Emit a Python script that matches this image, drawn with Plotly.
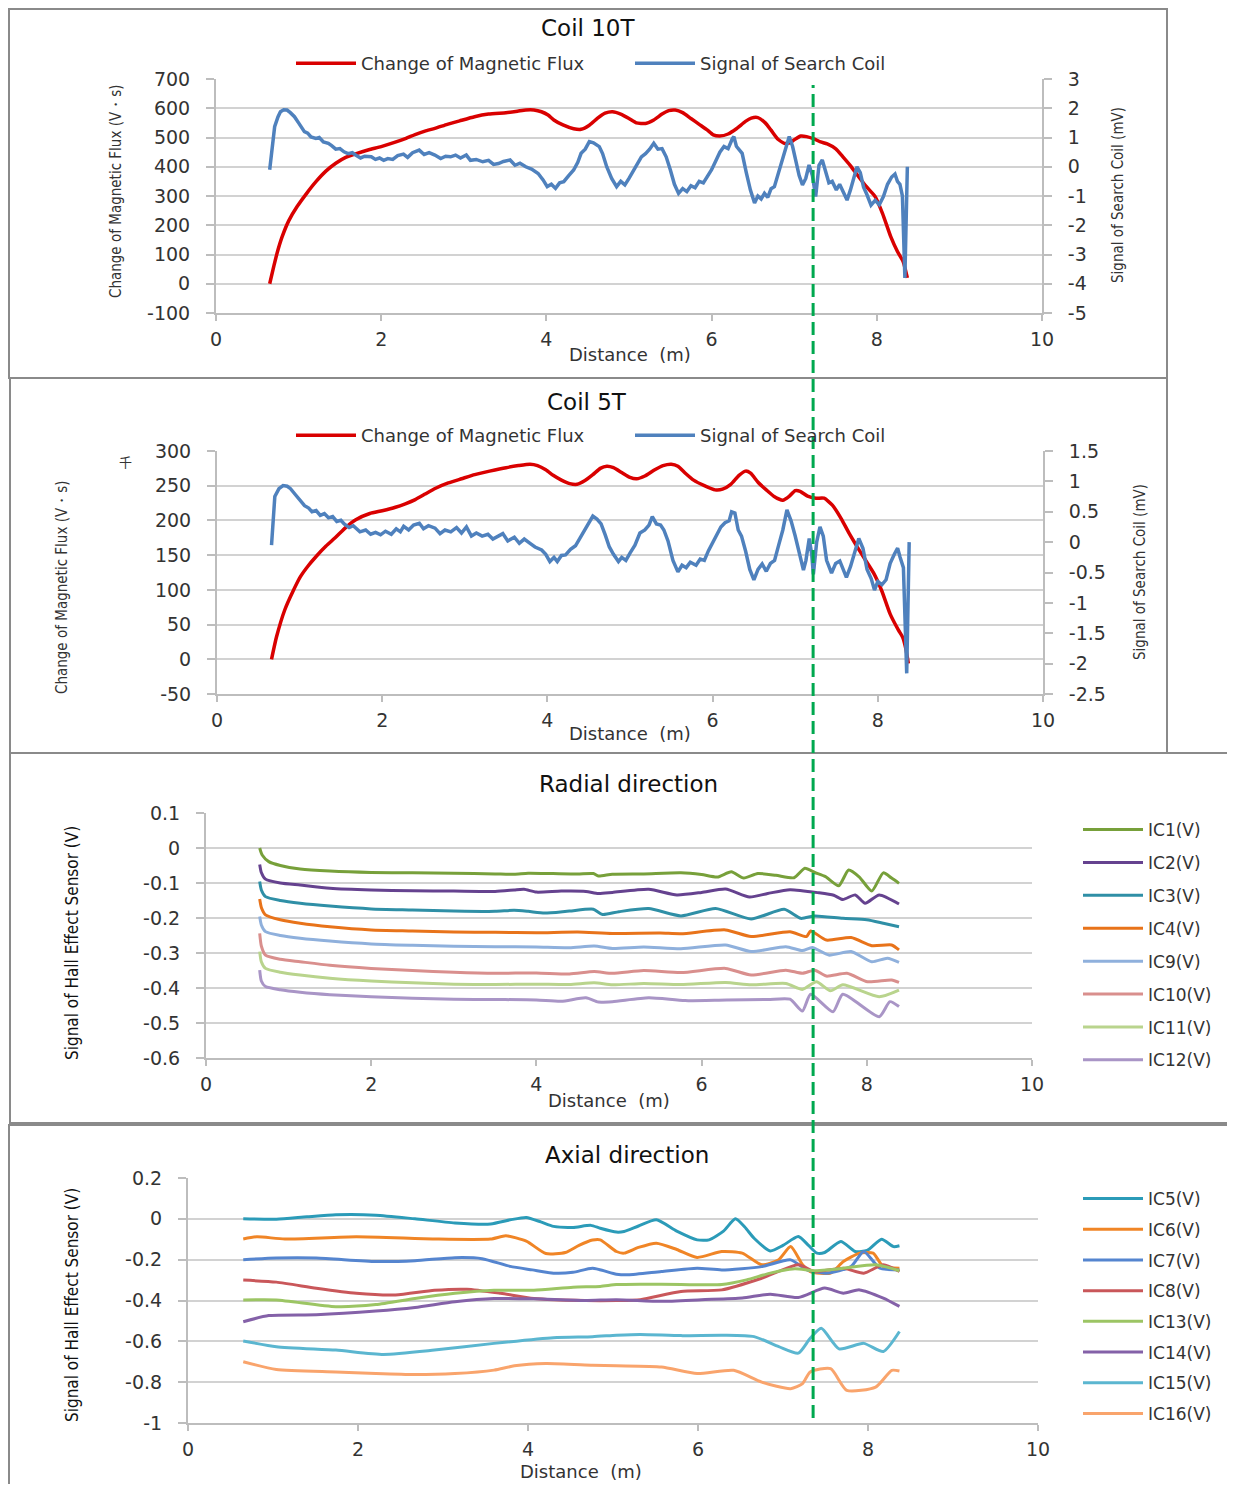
import plotly.graph_objects as go

# Page is 1235x1492; the browser body keeps its default 8px margin, so the
# figure itself is 16px smaller and every reference pixel is shifted by 8.
PAGE_W, PAGE_H = 1235, 1492
OFF = 8
W, H = PAGE_W - 2 * OFF, PAGE_H - 2 * OFF


def px(x):
    return (x - OFF) / W


def py(y):
    return 1 - (y - OFF) / H


# ---------------- DATA ----------------
x_ticks = [0, 2, 4, 6, 8, 10]
x_ticktext = ["0", "2", "4", "6", "8", "10"]

p1_left_ticks = [-100, 0, 100, 200, 300, 400, 500, 600, 700]
p1_left_text = ["-100", "0", "100", "200", "300", "400", "500", "600", "700"]
p1_right_ticks = [-5, -4, -3, -2, -1, 0, 1, 2, 3]
p1_right_text = ["-5", "-4", "-3", "-2", "-1", "0", "1", "2", "3"]

p2_left_ticks = [-50, 0, 50, 100, 150, 200, 250, 300]
p2_left_text = ["-50", "0", "50", "100", "150", "200", "250", "300"]
p2_right_ticks = [-2.5, -2, -1.5, -1, -0.5, 0, 0.5, 1, 1.5]
p2_right_text = ["-2.5", "-2", "-1.5", "-1", "-0.5", "0", "0.5", "1", "1.5"]

p3_ticks = [-0.6, -0.5, -0.4, -0.3, -0.2, -0.1, 0, 0.1]
p3_text = ["-0.6", "-0.5", "-0.4", "-0.3", "-0.2", "-0.1", "0", "0.1"]
p4_ticks = [-1, -0.8, -0.6, -0.4, -0.2, 0, 0.2]
p4_text = ["-1", "-0.8", "-0.6", "-0.4", "-0.2", "0", "0.2"]

# Coil 10T : change of magnetic flux (V*s)
c10_flux_d = [0.65, 0.70, 0.74, 0.80, 0.88, 0.98, 1.10, 1.21, 1.33, 1.45, 1.57, 1.69, 1.85, 2.00,
              2.17, 2.30, 2.41, 2.53, 2.65, 2.80, 2.95, 3.13, 3.30, 3.51, 3.65, 3.75, 3.85, 3.94,
              4.02, 4.09, 4.20, 4.33, 4.42, 4.52, 4.62, 4.71, 4.80, 4.90, 5.00, 5.09, 5.20, 5.30,
              5.40, 5.48, 5.56, 5.65, 5.75, 5.85, 5.95, 6.02, 6.10, 6.20, 6.30, 6.41, 6.48, 6.56,
              6.65, 6.72, 6.80, 6.88, 6.95, 7.00, 7.08, 7.15, 7.24, 7.32, 7.40, 7.50, 7.59, 7.68,
              7.78, 7.88, 7.98, 8.07, 8.17, 8.25, 8.32, 8.37]
c10_flux = [0, 60, 105, 160, 215, 263, 310, 349, 385, 412, 432, 444, 458, 469,
            484, 497, 510, 522, 531, 545, 557, 571, 580, 585, 590, 594, 594, 588,
            577, 560, 543, 530, 528, 542, 566, 583, 588, 580, 565, 550, 548, 560,
            580, 592, 594, 585, 565, 545, 525, 509, 505, 512, 530, 555, 566, 568,
            550, 525, 495, 480, 482, 492, 505, 503, 495, 485, 478, 462, 434, 404,
            366, 330, 298, 240, 160, 110, 75, 20]

# Coil 10T : signal of search coil (mV)
c10_sig_d = [0.65, 0.68, 0.71, 0.75, 0.78, 0.82, 0.86, 0.90, 0.95, 1.00, 1.04, 1.07, 1.11, 1.15,
             1.21, 1.25, 1.30, 1.36, 1.40, 1.45, 1.50, 1.55, 1.60, 1.65, 1.69, 1.75, 1.80, 1.88,
             1.93, 1.98, 2.03, 2.08, 2.14, 2.20, 2.27, 2.32, 2.38, 2.46, 2.52, 2.58, 2.65, 2.72,
             2.78, 2.84, 2.90, 2.96, 3.03, 3.08, 3.15, 3.23, 3.30, 3.36, 3.42, 3.48, 3.56, 3.62,
             3.68, 3.75, 3.82, 3.90, 3.96, 4.01, 4.06, 4.11, 4.16, 4.21, 4.27, 4.33, 4.38, 4.42,
             4.47, 4.52, 4.57, 4.64, 4.68, 4.73, 4.79, 4.85, 4.90, 4.95, 5.00, 5.05, 5.10, 5.15,
             5.20, 5.25, 5.30, 5.35, 5.40, 5.45, 5.50, 5.55, 5.60, 5.65, 5.70, 5.75, 5.80, 5.85,
             5.90, 5.95, 6.00, 6.05, 6.10, 6.15, 6.20, 6.25, 6.27, 6.30, 6.33, 6.37, 6.42, 6.47,
             6.52, 6.56, 6.60, 6.64, 6.68, 6.72, 6.76, 6.80, 6.85, 6.90, 6.94, 6.98, 7.02, 7.06,
             7.10, 7.14, 7.18, 7.22, 7.26, 7.30, 7.34, 7.38, 7.42, 7.46, 7.51, 7.55, 7.60, 7.64,
             7.68, 7.72, 7.76, 7.80, 7.84, 7.88, 7.93, 7.98, 8.03, 8.08, 8.13, 8.18, 8.22, 8.25,
             8.28, 8.31, 8.34, 8.37]
c10_sig = [-0.1, 0.6, 1.37, 1.7, 1.88, 1.95, 1.94, 1.85, 1.71, 1.5, 1.35, 1.2, 1.15, 1.02,
           0.97, 1.0, 0.85, 0.8, 0.72, 0.6, 0.62, 0.51, 0.45, 0.48, 0.4, 0.3, 0.36, 0.34,
           0.25, 0.3, 0.22, 0.28, 0.25, 0.38, 0.43, 0.32, 0.48, 0.57, 0.42, 0.48, 0.4, 0.28,
           0.36, 0.34, 0.4, 0.3, 0.4, 0.22, 0.25, 0.17, 0.22, 0.08, 0.11, 0.18, 0.23, 0.05,
           0.12, 0.0, -0.08, -0.23, -0.45, -0.68, -0.6, -0.74, -0.55, -0.51, -0.3, -0.11, 0.15, 0.46,
           0.6, 0.86, 0.82, 0.69, 0.45, 0.0, -0.4, -0.68, -0.5, -0.62, -0.4, -0.15, 0.15, 0.34,
           0.45, 0.6, 0.8, 0.6, 0.62, 0.34, -0.1, -0.6, -0.91, -0.75, -0.85, -0.65, -0.72, -0.5,
           -0.55, -0.34, -0.1, 0.2, 0.5, 0.69, 0.62, 0.95, 1.03, 0.7, 0.6, 0.46, -0.2, -0.8,
           -1.24, -1.0, -1.1, -0.91, -1.05, -0.75, -0.68, -0.3, 0.1, 0.6, 1.03, 0.7, 0.2, -0.3,
           -0.62, -0.4, 0.06, -0.3, -1.02, 0.05, 0.23, -0.2, -0.55, -0.5, -0.79, -0.6, -0.9, -1.14,
           -0.8, -0.4, 0.0, -0.2, -0.7, -0.95, -1.31, -1.15, -1.3, -1.02, -0.6, -0.35, -0.25, -0.5,
           -0.6, -1.0, -3.8, 0.0]

# Coil 5T : change of magnetic flux (V*s)
c5_flux_d = [0.66, 0.72, 0.82, 0.92, 1.01, 1.10, 1.20, 1.32, 1.44, 1.56, 1.68, 1.85, 2.00, 2.16,
             2.28, 2.40, 2.52, 2.64, 2.80, 2.96, 3.12, 3.30, 3.50, 3.65, 3.79, 3.88, 3.98, 4.07,
             4.17, 4.27, 4.36, 4.45, 4.55, 4.64, 4.72, 4.80, 4.90, 5.00, 5.08, 5.18, 5.30, 5.40,
             5.50, 5.58, 5.67, 5.77, 5.90, 6.03, 6.12, 6.22, 6.32, 6.40, 6.46, 6.55, 6.65, 6.75,
             6.85, 6.93, 7.00, 7.06, 7.15, 7.25, 7.35, 7.45, 7.56, 7.65, 7.75, 7.85, 7.95, 8.05,
             8.15, 8.25, 8.30, 8.34, 8.37]
c5_flux = [0, 32, 71, 98, 119, 134, 148, 163, 176, 190, 201, 210, 214, 219,
           224, 230, 238, 246, 254, 260, 266, 271, 276, 279, 281, 279, 273, 265,
           258, 253, 252, 257, 266, 275, 278, 276, 269, 262, 260, 264, 273, 279,
           281, 278, 268, 258, 250, 244, 245, 252, 265, 271, 268, 255, 244, 234,
           229, 235, 243, 242, 235, 232, 232, 222, 202, 182, 162, 143, 124, 98,
           65, 42, 32, 15, -6]

# Coil 5T : signal of search coil (mV)
c5_sig_d = [0.66, 0.68, 0.70, 0.75, 0.80, 0.85, 0.89, 0.95, 1.01, 1.06, 1.11, 1.15, 1.20, 1.25,
            1.30, 1.35, 1.40, 1.45, 1.50, 1.54, 1.60, 1.65, 1.73, 1.80, 1.86, 1.92, 1.98, 2.04,
            2.11, 2.17, 2.22, 2.26, 2.32, 2.38, 2.45, 2.50, 2.56, 2.64, 2.70, 2.76, 2.83, 2.90,
            2.96, 3.02, 3.08, 3.14, 3.21, 3.28, 3.34, 3.40, 3.46, 3.52, 3.60, 3.66, 3.72, 3.79,
            3.85, 3.93, 3.98, 4.03, 4.08, 4.12, 4.17, 4.22, 4.28, 4.34, 4.40, 4.45, 4.50, 4.55,
            4.60, 4.65, 4.70, 4.75, 4.80, 4.86, 4.90, 4.95, 5.00, 5.06, 5.12, 5.18, 5.23, 5.27,
            5.32, 5.37, 5.41, 5.46, 5.52, 5.58, 5.63, 5.68, 5.73, 5.80, 5.85, 5.90, 5.95, 6.02,
            6.10, 6.15, 6.20, 6.23, 6.27, 6.31, 6.35, 6.40, 6.45, 6.50, 6.55, 6.60, 6.65, 6.70,
            6.75, 6.80, 6.85, 6.90, 6.95, 7.00, 7.05, 7.10, 7.13, 7.17, 7.20, 7.22, 7.26, 7.30,
            7.34, 7.38, 7.44, 7.49, 7.54, 7.58, 7.62, 7.67, 7.72, 7.77, 7.82, 7.87, 7.92, 7.96,
            8.00, 8.05, 8.10, 8.15, 8.20, 8.24, 8.27, 8.31, 8.35, 8.38]
c5_sig = [-0.05, 0.35, 0.75, 0.88, 0.93, 0.92, 0.88, 0.78, 0.67, 0.6, 0.56, 0.5, 0.52, 0.44,
          0.47, 0.4, 0.42, 0.34, 0.36, 0.3, 0.24, 0.27, 0.17, 0.2, 0.13, 0.16, 0.12, 0.18,
          0.13, 0.22, 0.17, 0.26, 0.2, 0.28, 0.31, 0.22, 0.27, 0.23, 0.14, 0.2, 0.17, 0.24,
          0.15, 0.25, 0.1, 0.15, 0.1, 0.13, 0.05, 0.09, 0.14, 0.02, 0.08, -0.02, 0.05, -0.02,
          -0.08, -0.13, -0.2, -0.32, -0.25, -0.32, -0.22, -0.21, -0.12, -0.06, 0.08, 0.18, 0.32, 0.43,
          0.38, 0.3, 0.12, -0.08, -0.2, -0.32, -0.25, -0.3, -0.18, -0.05, 0.15, 0.2, 0.28, 0.42,
          0.3, 0.28, 0.2, 0.02, -0.3, -0.49, -0.38, -0.42, -0.33, -0.38, -0.28, -0.3, -0.14, 0.05,
          0.25, 0.32, 0.35, 0.5, 0.48, 0.2, 0.1, -0.15, -0.45, -0.62, -0.45, -0.36, -0.48, -0.35,
          -0.3, -0.05, 0.2, 0.53, 0.35, 0.1, -0.2, -0.46, -0.3, 0.06, -0.2, -0.53, 0.0, 0.25,
          0.1, -0.3, -0.51, -0.35, -0.31, -0.45, -0.58, -0.4, -0.15, 0.06, -0.1, -0.45, -0.6, -0.79,
          -0.65, -0.7, -0.62, -0.35, -0.2, -0.1, -0.25, -0.42, -2.16, 0.0]

# Radial direction (V)
ic1_d = [0.65, 0.68, 0.76, 0.9, 1.14, 1.5, 2.0, 2.5, 3.0, 3.5, 3.73, 3.9, 4.2, 4.5, 4.69, 4.75, 4.92,
         5.3, 5.75, 6.0, 6.19, 6.36, 6.51, 6.68, 6.9, 7.12, 7.25, 7.37, 7.5, 7.66, 7.78, 7.91, 8.06,
         8.2, 8.3, 8.39]
ic1 = [0.0, -0.02, -0.039, -0.05, -0.06, -0.066, -0.07, -0.071, -0.072, -0.074, -0.075, -0.072,
       -0.073, -0.074, -0.073, -0.08, -0.075, -0.074, -0.071, -0.076, -0.083, -0.068, -0.086, -0.073,
       -0.078, -0.085, -0.058, -0.07, -0.082, -0.108, -0.063, -0.083, -0.123, -0.071, -0.086, -0.101]
ic2_d = [0.65, 0.67, 0.72, 0.9, 1.14, 1.5, 2.0, 2.5, 3.0, 3.5, 3.73, 3.85, 4.0, 4.3, 4.6, 4.75, 4.92,
         5.36, 5.7, 6.0, 6.29, 6.58, 6.8, 7.07, 7.42, 7.6, 7.71, 7.86, 7.98, 8.15, 8.39]
ic2 = [-0.047, -0.07, -0.089, -0.1, -0.106, -0.115, -0.12, -0.122, -0.123, -0.124, -0.12, -0.118,
       -0.126, -0.123, -0.124, -0.13, -0.127, -0.118, -0.134, -0.127, -0.117, -0.14, -0.13, -0.119,
       -0.128, -0.135, -0.147, -0.134, -0.158, -0.134, -0.16]
ic3_d = [0.65, 0.67, 0.72, 0.9, 1.14, 1.5, 2.0, 2.5, 3.0, 3.5, 3.73, 3.9, 4.1, 4.4, 4.69, 4.8, 5.0,
         5.36, 5.75, 6.17, 6.6, 7.0, 7.2, 7.37, 7.71, 8.0, 8.2, 8.39]
ic3 = [-0.096, -0.12, -0.139, -0.15, -0.158, -0.166, -0.174, -0.177, -0.18, -0.181, -0.178, -0.181,
       -0.186, -0.18, -0.175, -0.19, -0.182, -0.173, -0.194, -0.173, -0.203, -0.175, -0.201, -0.194,
       -0.201, -0.205, -0.215, -0.225]
ic4_d = [0.65, 0.67, 0.72, 0.9, 1.14, 1.5, 2.0, 2.5, 3.0, 3.5, 4.0, 4.5, 4.92, 5.5, 5.75, 6.29, 6.6,
         7.07, 7.27, 7.32, 7.51, 7.81, 8.06, 8.3, 8.39]
ic4 = [-0.146, -0.17, -0.191, -0.205, -0.215, -0.225, -0.234, -0.237, -0.24, -0.241, -0.242, -0.24,
       -0.244, -0.243, -0.245, -0.234, -0.253, -0.239, -0.253, -0.237, -0.263, -0.256, -0.279, -0.277,
       -0.291]
ic9_d = [0.65, 0.67, 0.72, 0.9, 1.14, 1.5, 2.0, 2.5, 3.0, 3.5, 4.0, 4.4, 4.7, 4.92, 5.3, 5.75, 6.29,
         6.6, 7.02, 7.22, 7.34, 7.54, 7.81, 8.06, 8.25, 8.39]
ic9 = [-0.196, -0.22, -0.239, -0.25, -0.258, -0.266, -0.274, -0.278, -0.281, -0.282, -0.283, -0.285,
       -0.28, -0.287, -0.283, -0.288, -0.277, -0.296, -0.282, -0.293, -0.284, -0.306, -0.296, -0.325,
       -0.315, -0.327]
ic10_d = [0.65, 0.67, 0.72, 0.9, 1.14, 1.5, 2.0, 2.5, 3.0, 3.5, 4.0, 4.4, 4.7, 4.92, 5.3, 5.75, 6.29,
          6.6, 7.02, 7.22, 7.37, 7.51, 7.76, 8.01, 8.3, 8.39]
ic10 = [-0.244, -0.28, -0.306, -0.318, -0.325, -0.335, -0.344, -0.35, -0.355, -0.358, -0.357, -0.36,
        -0.353, -0.358, -0.35, -0.356, -0.344, -0.363, -0.349, -0.358, -0.349, -0.366, -0.358, -0.382,
        -0.377, -0.384]
ic11_d = [0.65, 0.67, 0.72, 0.9, 1.14, 1.5, 2.0, 2.5, 3.0, 3.5, 4.0, 4.4, 4.7, 4.92, 5.3, 5.75, 6.29,
          6.6, 7.02, 7.22, 7.39, 7.56, 7.71, 8.15, 8.39]
ic11 = [-0.296, -0.325, -0.344, -0.355, -0.363, -0.372, -0.38, -0.385, -0.389, -0.39, -0.389, -0.39,
        -0.385, -0.391, -0.387, -0.39, -0.384, -0.391, -0.387, -0.404, -0.382, -0.408, -0.391, -0.425,
        -0.406]
ic12_d = [0.65, 0.67, 0.72, 0.9, 1.14, 1.5, 2.0, 2.5, 3.0, 3.5, 4.0, 4.3, 4.6, 4.75, 4.92, 5.36, 5.8,
          6.3, 6.8, 7.07, 7.22, 7.32, 7.59, 7.71, 8.15, 8.28, 8.39]
ic12 = [-0.349, -0.38, -0.396, -0.405, -0.412, -0.419, -0.425, -0.429, -0.432, -0.433, -0.434, -0.438,
        -0.428, -0.44, -0.439, -0.428, -0.436, -0.434, -0.433, -0.432, -0.466, -0.418, -0.468, -0.418,
        -0.482, -0.439, -0.453]

# Axial direction (V)
ic5_d = [0.65, 1.04, 1.4, 1.74, 2.21, 2.67, 3.14, 3.56, 3.79, 3.98, 4.15, 4.3, 4.53, 4.74, 4.85, 5.04,
         5.13, 5.3, 5.51, 5.75, 5.99, 6.13, 6.3, 6.44, 6.55, 6.66, 6.85, 7.0, 7.18, 7.3, 7.4, 7.49,
         7.68, 7.85, 7.99, 8.16, 8.3, 8.37]
ic5 = [0.0, -0.002, 0.01, 0.02, 0.018, 0.0, -0.02, -0.025, -0.005, 0.007, -0.015, -0.037, -0.042,
       -0.032, -0.046, -0.065, -0.062, -0.035, -0.005, -0.06, -0.103, -0.103, -0.06, 0.0, -0.04,
       -0.095, -0.157, -0.13, -0.087, -0.13, -0.168, -0.165, -0.111, -0.16, -0.155, -0.1, -0.136,
       -0.132]
ic6_d = [0.65, 0.81, 1.14, 1.98, 2.9, 3.56, 3.74, 3.98, 4.21, 4.44, 4.6, 4.76, 4.85, 5.04, 5.13, 5.3,
         5.51, 5.75, 5.99, 6.28, 6.52, 6.75, 6.95, 7.09, 7.23, 7.32, 7.56, 7.71, 7.9, 8.06, 8.18, 8.37]
ic6 = [-0.099, -0.088, -0.099, -0.088, -0.099, -0.099, -0.083, -0.109, -0.17, -0.165, -0.13, -0.104,
       -0.103, -0.16, -0.168, -0.14, -0.119, -0.15, -0.189, -0.16, -0.168, -0.225, -0.2, -0.136,
       -0.225, -0.258, -0.266, -0.209, -0.168, -0.168, -0.234, -0.242]
ic7_d = [0.65, 1.04, 1.51, 2.21, 2.67, 3.14, 3.46, 3.79, 4.05, 4.3, 4.53, 4.76, 5.04, 5.18, 5.57, 5.99,
         6.28, 6.75, 7.09, 7.28, 7.51, 7.8, 7.95, 8.14, 8.37]
ic7 = [-0.2, -0.192, -0.192, -0.209, -0.205, -0.19, -0.195, -0.233, -0.25, -0.266, -0.262, -0.242,
       -0.271, -0.274, -0.258, -0.242, -0.25, -0.234, -0.201, -0.25, -0.266, -0.234, -0.16, -0.242,
       -0.25]
ic8_d = [0.65, 1.04, 1.51, 1.98, 2.44, 2.9, 3.28, 3.68, 4.07, 4.67, 5.04, 5.32, 5.8, 6.28, 6.75, 7.18,
         7.37, 7.71, 7.95, 8.18, 8.37]
ic8 = [-0.3, -0.31, -0.34, -0.365, -0.373, -0.35, -0.345, -0.365, -0.39, -0.4, -0.4, -0.396, -0.356,
       -0.348, -0.291, -0.225, -0.258, -0.242, -0.266, -0.225, -0.258]
ic13_d = [0.65, 1.04, 1.74, 2.21, 2.67, 3.14, 3.6, 4.07, 4.53, 4.85, 5.04, 5.32, 5.8, 6.28, 6.57, 6.85,
          7.14, 7.37, 7.71, 8.09, 8.37]
ic13 = [-0.397, -0.397, -0.43, -0.42, -0.39, -0.365, -0.35, -0.35, -0.335, -0.331, -0.322, -0.32,
        -0.322, -0.322, -0.299, -0.266, -0.245, -0.254, -0.242, -0.225, -0.254]
ic14_d = [0.65, 0.95, 1.51, 2.21, 2.67, 3.14, 3.6, 4.07, 4.67, 5.04, 5.57, 6.04, 6.52, 6.85, 7.18, 7.49,
          7.71, 7.9, 8.18, 8.37]
ic14 = [-0.504, -0.474, -0.47, -0.452, -0.434, -0.406, -0.39, -0.392, -0.4, -0.396, -0.404, -0.396,
        -0.388, -0.369, -0.385, -0.339, -0.364, -0.348, -0.388, -0.429]
ic15_d = [0.65, 1.04, 1.74, 2.3, 2.9, 3.6, 4.3, 4.76, 5.04, 5.32, 5.8, 6.3, 6.66, 6.95, 7.18, 7.32, 7.45,
          7.66, 7.95, 8.18, 8.37]
ic15 = [-0.598, -0.626, -0.643, -0.664, -0.643, -0.61, -0.582, -0.577, -0.57, -0.566, -0.572, -0.57,
        -0.577, -0.626, -0.658, -0.585, -0.536, -0.637, -0.61, -0.65, -0.552]
ic16_d = [0.65, 1.04, 1.74, 2.21, 2.67, 3.14, 3.6, 3.84, 4.21, 4.76, 5.04, 5.57, 5.99, 6.42, 6.75, 7.09,
          7.23, 7.32, 7.56, 7.75, 8.09, 8.28, 8.37]
ic16 = [-0.7, -0.738, -0.75, -0.758, -0.763, -0.758, -0.741, -0.72, -0.709, -0.717, -0.72, -0.726,
        -0.758, -0.742, -0.8, -0.832, -0.807, -0.75, -0.734, -0.84, -0.824, -0.742, -0.745]

radial_names = ["IC1(V)", "IC2(V)", "IC3(V)", "IC4(V)", "IC9(V)", "IC10(V)", "IC11(V)", "IC12(V)"]
axial_names = ["IC5(V)", "IC6(V)", "IC7(V)", "IC8(V)", "IC13(V)", "IC14(V)", "IC15(V)", "IC16(V)"]

marker_distance = 7.35

# ---------------- STYLE ----------------
FONT = "DejaVu Sans"
NARROW = "Liberation Sans Narrow, DejaVu Sans Condensed, Liberation Sans"
TXT = "#333333"
AXIS = "#bdbdbd"
GRID = "#d2d2d2"
RED = "#d90000"
BLUE = "#4f81bd"
radial_colors = ["#77a03a", "#65428f", "#2f8fa6", "#e8731a", "#8fb0dc", "#d98f8d", "#b9d48d", "#a995c6"]
axial_colors = ["#2b9bb8", "#f08526", "#5585cf", "#c9575a", "#9cc564", "#8461a8", "#5bb6d0", "#f9a46c"]

fig = go.Figure()

# Panel 1
fig.add_trace(go.Scatter(x=c10_flux_d, y=c10_flux, name="Change of Magnetic Flux", mode="lines",
                         line=dict(color=RED, width=3.5, shape="spline", smoothing=0.5),
                         xaxis="x", yaxis="y", legend="legend"))
fig.add_trace(go.Scatter(x=c10_sig_d, y=c10_sig, name="Signal of Search Coil", mode="lines",
                         line=dict(color=BLUE, width=3.5),
                         xaxis="x", yaxis="y2", legend="legend"))
# Panel 2
fig.add_trace(go.Scatter(x=c5_flux_d, y=c5_flux, name="Change of Magnetic Flux", mode="lines",
                         line=dict(color=RED, width=3.5, shape="spline", smoothing=0.5),
                         xaxis="x2", yaxis="y3", legend="legend2"))
fig.add_trace(go.Scatter(x=c5_sig_d, y=c5_sig, name="Signal of Search Coil", mode="lines",
                         line=dict(color=BLUE, width=3.5),
                         xaxis="x2", yaxis="y4", legend="legend2"))

# Panel 3
radial_d = [ic1_d, ic2_d, ic3_d, ic4_d, ic9_d, ic10_d, ic11_d, ic12_d]
radial_v = [ic1, ic2, ic3, ic4, ic9, ic10, ic11, ic12]
for i, (n, dd, vv) in enumerate(zip(radial_names, radial_d, radial_v)):
    fig.add_trace(go.Scatter(x=dd, y=vv, name=n, mode="lines",
                             line=dict(color=radial_colors[i], width=3, shape="spline", smoothing=0.6),
                             xaxis="x3", yaxis="y5", legend="legend3", legendgroup="r%d" % i))
# Panel 4
axial_d = [ic5_d, ic6_d, ic7_d, ic8_d, ic13_d, ic14_d, ic15_d, ic16_d]
axial_v = [ic5, ic6, ic7, ic8, ic13, ic14, ic15, ic16]
for i, (n, dd, vv) in enumerate(zip(axial_names, axial_d, axial_v)):
    fig.add_trace(go.Scatter(x=dd, y=vv, name=n, mode="lines",
                             line=dict(color=axial_colors[i], width=3, shape="spline", smoothing=0.6),
                             xaxis="x4", yaxis="y6", legend="legend4", legendgroup="a%d" % i))

tickfont = dict(family=FONT, size=19, color=TXT)
common = dict(showline=True, linecolor=AXIS, linewidth=2, ticks="outside", tickcolor=AXIS,
              tickwidth=2, ticklen=8, tickfont=tickfont, zeroline=False, fixedrange=True,
              automargin=False)


def xax(dom, anchor):
    d = dict(common)
    d.update(domain=dom, anchor=anchor, range=[0, 10], tickmode="array", tickvals=x_ticks,
             ticktext=x_ticktext, showgrid=False, ticklen=6, ticklabelstandoff=2)
    return d


def yax(dom, anchor, rng, tv, tt, grid=True, side="left", overlaying=None):
    d = dict(common)
    d.update(domain=dom, anchor=anchor, range=rng, tickmode="array", tickvals=tv, ticktext=tt,
             showgrid=grid, gridcolor=GRID, gridwidth=2, side=side, ticklabelstandoff=12)
    if overlaying:
        d["overlaying"] = overlaying
        d.pop("domain")
    return d


legfont_h = dict(family=FONT, size=18, color=TXT)
legfont_v = dict(family=FONT, size=17, color=TXT)
fig.update_layout(
    width=W, height=H, autosize=False,
    margin=dict(l=0, r=0, t=0, b=0, pad=0, autoexpand=False),
    paper_bgcolor="white", plot_bgcolor="rgba(0,0,0,0)",
    font=dict(family=FONT, color=TXT),
    xaxis=xax([px(216), px(1042)], "y"),
    yaxis=yax([py(313), py(79)], "x", [-100, 700], p1_left_ticks, p1_left_text),
    yaxis2=yax(None, "x", [-5, 3], p1_right_ticks, p1_right_text, grid=False, side="right",
               overlaying="y"),
    xaxis2=xax([px(217), px(1043)], "y3"),
    yaxis3=yax([py(694), py(451)], "x2", [-50, 300], p2_left_ticks, p2_left_text),
    yaxis4=yax(None, "x2", [-2.5, 1.5], p2_right_ticks, p2_right_text, grid=False, side="right",
               overlaying="y3"),
    xaxis3=xax([px(206), px(1032)], "y5"),
    yaxis5=yax([py(1058), py(813)], "x3", [-0.6, 0.1], p3_ticks, p3_text),
    xaxis4=xax([px(188), px(1038)], "y6"),
    yaxis6=yax([py(1423), py(1178)], "x4", [-1, 0.2], p4_ticks, p4_text),
    legend=dict(orientation="h", x=px(291), y=py(45), xanchor="left", yanchor="top",
                font=legfont_h, bgcolor="rgba(0,0,0,0)", itemwidth=60,
                entrywidth=264, entrywidthmode="pixels"),
    legend2=dict(orientation="h", x=px(291), y=py(417), xanchor="left", yanchor="top",
                 font=legfont_h, bgcolor="rgba(0,0,0,0)", itemwidth=60,
                 entrywidth=264, entrywidthmode="pixels"),
    legend3=dict(orientation="v", x=px(1078), y=py(812), xanchor="left", yanchor="top",
                 font=legfont_v, bgcolor="rgba(0,0,0,0)", itemwidth=60,
                 traceorder="grouped", tracegroupgap=7.8),
    legend4=dict(orientation="v", x=px(1078), y=py(1181), xanchor="left", yanchor="top",
                 font=legfont_v, bgcolor="rgba(0,0,0,0)", itemwidth=60,
                 traceorder="grouped", tracegroupgap=5.6),
)

# Panel frames
frames = [(9, 9, 1167, 378), (10, 378, 1167, 753), (10, 753, 1245, 1123), (9, 1125, 1245, 1500)]
for (x0, y0, x1, y1) in frames:
    fig.add_shape(type="rect", xref="paper", yref="paper", x0=px(x0), x1=px(x1), y0=py(y1), y1=py(y0),
                  line=dict(color="#8a8a8a", width=2), layer="below")

# Green dashed marker line through all panels (at the marker distance on panel 3 axis)
fig.add_shape(type="line", xref="x3", yref="paper", x0=marker_distance, x1=marker_distance,
              y0=py(1418), y1=py(85), line=dict(color="#00a84f", width=3, dash="13px,6px"))

ann = []


def text(x, y, s, size, family=FONT, angle=0, color="#111111"):
    ann.append(dict(x=px(x), y=py(y), xref="paper", yref="paper", text=s, showarrow=False,
                    xanchor="center", yanchor="middle", textangle=angle,
                    font=dict(family=family, size=size, color=color)))


text(588, 28, "Coil 10T", 23)
text(587, 402, "Coil 5T", 23)
text(628, 784, "Radial direction", 23)
text(627, 1155, "Axial direction", 23)
text(630, 355, "Distance  (m)", 18, color=TXT)
text(630, 733, "Distance  (m)", 18, color=TXT)
text(609, 1100, "Distance  (m)", 18, color=TXT)
text(581, 1471, "Distance  (m)", 18, color=TXT)
text(116, 192, "Change of Magnetic Flux (V・s)", 15, NARROW, -90, TXT)
text(62, 588, "Change of Magnetic Flux (V・s)", 15, NARROW, -90, TXT)
text(125, 462, "千", 13, "Noto Sans CJK SC", 0, TXT)
text(1118, 195, "Signal of Search Coil (mV)", 15, NARROW, -90, TXT)
text(1140, 572, "Signal of Search Coil (mV)", 15, NARROW, -90, TXT)
text(72, 943, "Signal of Hall Effect Sensor (V)", 17, NARROW, -90, "#111111")
text(72, 1305, "Signal of Hall Effect Sensor (V)", 17, NARROW, -90, "#111111")
fig.update_layout(annotations=ann)

fig.write_html("out.html", config={"displayModeBar": False})
